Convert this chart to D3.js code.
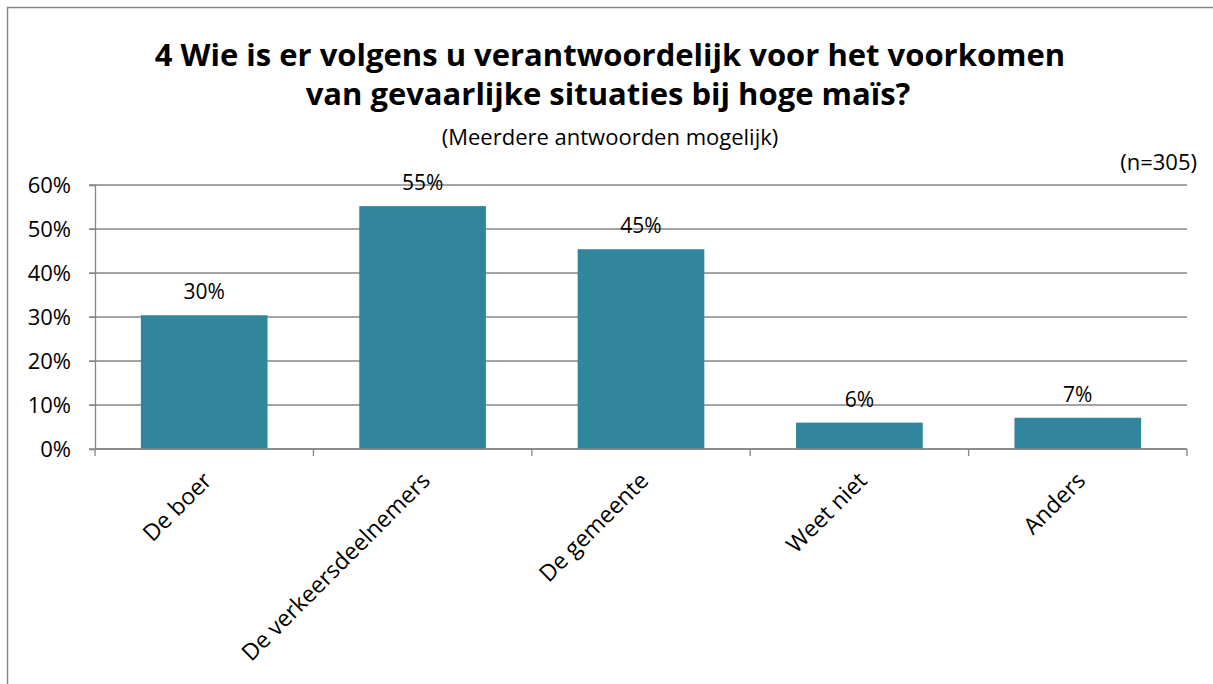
<!DOCTYPE html>
<html>
<head>
<meta charset="utf-8">
<script src="https://cdnjs.cloudflare.com/ajax/libs/d3/7.8.5/d3.min.js"></script>
<style>
  body { margin: 0; background: #fff; }
  text { font-family: "Open Sans", "Liberation Sans", sans-serif; fill: #000; }
</style>
</head>
<body>
<svg></svg>
<script>
let categories = ["De boer", "De verkeersdeelnemers", "De gemeente", "Weet niet", "Anders"]
let values = [0.304, 0.552, 0.454, 0.060, 0.071]
let yTicks = [0, 0.1, 0.2, 0.3, 0.4, 0.5, 0.6]

let width = 1213
let height = 684
let plotLeft = 95, plotRight = 1187, plotTop = 185, plotBottom = 449

let svg = d3.select('svg').attr('width', width).attr('height', height)

// frame
svg.append('rect')
   .attr('x', 7.5).attr('y', 7.5)
   .attr('width', width + 20).attr('height', height + 20)
   .attr('fill', 'none').attr('stroke', '#868686').attr('stroke-width', 1.5)

// titles
svg.append('text').attr('x', 610).attr('y', 66).attr('text-anchor', 'middle')
   .attr('font-size', 31).attr('font-weight', 'bold')
   .text('4 Wie is er volgens u verantwoordelijk voor het voorkomen')
svg.append('text').attr('x', 608).attr('y', 105).attr('text-anchor', 'middle')
   .attr('font-size', 31).attr('font-weight', 'bold')
   .text('van gevaarlijke situaties bij hoge maïs?')
svg.append('text').attr('x', 610).attr('y', 145).attr('text-anchor', 'middle')
   .attr('font-size', 22)
   .text('(Meerdere antwoorden mogelijk)')
svg.append('text').attr('x', 1197).attr('y', 170).attr('text-anchor', 'end')
   .attr('font-size', 22)
   .text('(n=305)')

let x = d3.scaleBand().domain(categories).range([plotLeft, plotRight]).paddingInner(0.42).paddingOuter(0.21)
let y = d3.scaleLinear().domain([0, 0.6]).range([plotBottom, plotTop])

// gridlines
svg.append('g').selectAll('line').data(yTicks).join('line')
   .attr('x1', plotLeft - 6).attr('x2', plotRight)
   .attr('y1', d => y(d)).attr('y2', d => y(d))
   .attr('stroke', '#868686').attr('stroke-width', 1.3)

// y axis
let yAxis = d3.axisLeft(y).tickValues(yTicks).tickFormat(d3.format('.0%')).tickSize(6).tickPadding(18)
let gy = svg.append('g').attr('transform', `translate(${plotLeft},0)`).call(yAxis)
gy.selectAll('line').attr('stroke', '#868686')
gy.select('.domain').attr('stroke', '#868686').attr('stroke-width', 1.3)
gy.selectAll('text').attr('font-size', 22).attr('fill', '#000')
   .style('font-family', '"Open Sans", sans-serif')

// bars
svg.append('g').selectAll('rect').data(values).join('rect')
   .attr('x', (d, i) => x(categories[i]))
   .attr('width', x.bandwidth())
   .attr('y', d => y(d))
   .attr('height', d => y(0) - y(d))
   .attr('fill', '#31859c')

// value labels
svg.append('g').selectAll('text').data(values).join('text')
   .attr('x', (d, i) => x(categories[i]) + x.bandwidth() / 2)
   .attr('y', d => y(d) - 16)
   .attr('text-anchor', 'middle')
   .attr('font-size', 21)
   .text(d => d3.format('.0%')(d))

// x axis with ticks at category boundaries
let boundaries = d3.range(categories.length + 1).map(i => plotLeft + i * x.step())
svg.append('line').attr('x1', plotLeft).attr('x2', plotRight).attr('y1', plotBottom).attr('y2', plotBottom)
   .attr('stroke', '#868686').attr('stroke-width', 1.3)
svg.append('g').selectAll('line').data(boundaries).join('line')
   .attr('x1', d => d).attr('x2', d => d)
   .attr('y1', plotBottom).attr('y2', plotBottom + 7)
   .attr('stroke', '#868686').attr('stroke-width', 1.3)

svg.append('g').selectAll('text').data(categories).join('text')
   .attr('transform', d => `translate(${x(d) + x.bandwidth() / 2 + 9},${plotBottom + 33}) rotate(-45)`)
   .attr('text-anchor', 'end')
   .attr('font-size', 23)
   .text(d => d)
</script>
</body>
</html>
